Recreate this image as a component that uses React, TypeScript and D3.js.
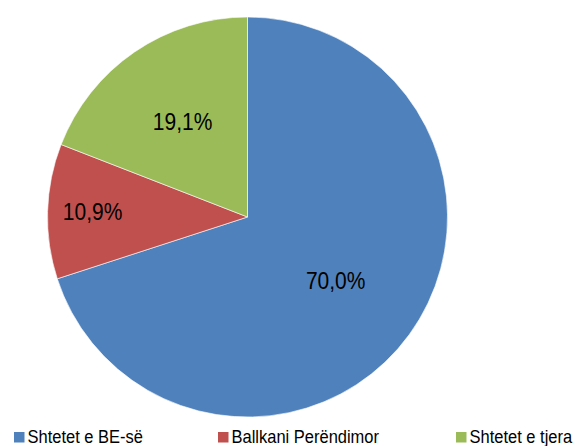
import React from "react";
import * as d3 from "d3";

const categories = ["Shtetet e BE-së", "Ballkani Perëndimor", "Shtetet e tjera"];
const values = [70.0, 10.9, 19.1];
const labels = ["70,0%", "10,9%", "19,1%"];
const colors = ["#4F81BD", "#C0504D", "#9BBB59"];

const W = 579;
const H = 446;
const cx = 247.5;
const cy = 217;
const R = 200;
const labelFactors = [0.545, 0.775, 0.575];
const legendX = [14, 218, 456];
const FONT = "'Liberation Sans', Arial, sans-serif";

export default function App() {
  const pie = d3.pie<number>().sort(null).value((d) => d)(values);
  const arc = d3.arc<d3.PieArcDatum<number>>().innerRadius(0).outerRadius(R);
  return (
    <svg width={W} height={H} style={{ position: "absolute", left: 0, top: 0, background: "#fff" }}>
      <g transform={`translate(${cx},${cy})`}>
        {pie.map((p, i) => (
          <path key={i} d={arc(p) || ""} fill={colors[i]} stroke="#fff" strokeWidth={0.6} />
        ))}
        {pie.map((p, i) => {
          const a = (p.startAngle + p.endAngle) / 2;
          const r = R * labelFactors[i];
          const x = Math.sin(a) * r;
          const y = -Math.cos(a) * r;
          return (
            <g key={"l" + i} transform={`translate(${x},${y}) scale(1,1.1)`}>
              <text
                x={0}
                y={0}
                textAnchor="middle"
                dominantBaseline="central"
                fontFamily={FONT}
                fontSize={21}
                fill="#000"
              >
                {labels[i]}
              </text>
            </g>
          );
        })}
      </g>
      <g>
        {categories.map((c, i) => (
          <g key={c} transform={`translate(${legendX[i]},0)`}>
            <rect x={0} y={432} width={10.5} height={10.5} fill={colors[i]} />
            <g transform="translate(13.5,443) scale(1,1.08)">
              <text x={0} y={0} fontFamily={FONT} fontSize={16.5} fill="#000">
                {c}
              </text>
            </g>
          </g>
        ))}
      </g>
    </svg>
  );
}
